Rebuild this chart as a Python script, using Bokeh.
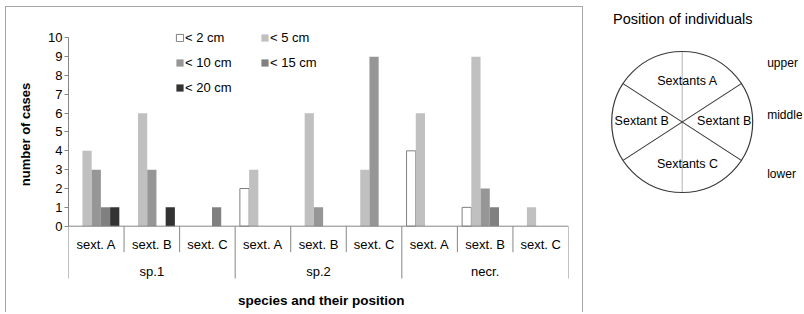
import math
from bokeh.plotting import figure
from bokeh.models import (FactorRange, Range1d, FixedTicker, Legend, LegendItem,
                          ColumnDataSource, Span)
from bokeh.transform import dodge
from bokeh.layouts import row
from bokeh.core.properties import value
from bokeh.embed import file_html
from bokeh.resources import INLINE

# ---------------- data ----------------
groups = ["sp.1", "sp.2", "necr."]
sextants = ["sext. A", "sext. B", "sext. C"]
size_classes = ["< 2 cm", "< 5 cm", "< 10 cm", "< 15 cm", "< 20 cm"]
# one value per (group, sextant): sp.1 A,B,C | sp.2 A,B,C | necr. A,B,C
cases_lt2 = [0, 0, 0, 2, 0, 0, 4, 1, 0]
cases_lt5 = [4, 6, 0, 3, 6, 3, 6, 9, 1]
cases_lt10 = [3, 3, 0, 0, 1, 9, 0, 2, 0]
cases_lt15 = [1, 0, 1, 0, 0, 0, 0, 1, 0]
cases_lt20 = [1, 1, 0, 0, 0, 0, 0, 0, 0]
y_ticks = list(range(0, 11))
x_title = "species and their position"
y_title = "number of cases"

diagram_title = "Position of individuals"
sector_labels = ["Sextants A", "Sextant B", "Sextant B", "Sextants C"]
level_labels = ["upper", "middle", "lower"]

# ---------------- styles ----------------
FONT = "Liberation Sans"
fills = ["#ffffff", "#c0c0c0", "#969696", "#808080", "#333333"]
edges = ["#7f7f7f", None, None, None, None]
AXIS = "#868686"
BORDER = "1px solid #a6a6a6"
H = 306

factors = [(g, s) for g in groups for s in sextants]
series = [cases_lt2, cases_lt5, cases_lt10, cases_lt15, cases_lt20]

# ---------------- y title strip ----------------
yl = figure(width=40, height=H, x_range=Range1d(0, 40), y_range=Range1d(0, H),
            x_axis_location=None, y_axis_location=None, output_backend="svg",
            toolbar_location=None, min_border=0)
yl.grid.visible = False
yl.outline_line_color = None
yl.text(x=[19], y=[179], text=[y_title], angle=math.pi / 2,
        text_align="center", text_baseline="middle", text_font=value(FONT),
        text_font_size="13px", text_font_style="bold", text_color="#000000")
yl.styles = {"border-top": BORDER, "border-left": BORDER}

# ---------------- bar chart ----------------
p = figure(width=538, height=H,
           x_range=FactorRange(factors=factors, factor_padding=0, group_padding=0,
                               subgroup_padding=0, range_padding=0),
           y_range=Range1d(-4.634, 11.608),
           x_axis_location=None, output_backend="svg", toolbar_location=None,
           min_border_left=23, min_border_right=15, min_border_top=0, min_border_bottom=0)
p.grid.visible = False
p.outline_line_color = None

bar_w = 0.166
renderers = {}
for k, (name, vals) in enumerate(zip(size_classes, series)):
    xs = [f for f, v in zip(factors, vals) if v > 0]
    tops = [v for v in vals if v > 0]
    src = ColumnDataSource(dict(x=xs, top=tops))
    renderers[name] = p.vbar(x=dodge("x", (k - 2) * bar_w, range=p.x_range), top="top",
                             bottom=0, width=bar_w, source=src, fill_color=fills[k],
                             line_color=edges[k], line_width=1)

# legend fills column by column: reorder so that it reads row by row
order = [0, 2, 4, 1, 3]
legend = Legend(items=[LegendItem(label=size_classes[i], renderers=[renderers[size_classes[i]]])
                       for i in order],
                ncols=2, location=(107, 218),
                glyph_width=9, glyph_height=9, label_height=9, label_width=65,
                label_standoff=1, spacing=10, padding=0, margin=0,
                border_line_color=None, background_fill_alpha=0,
                label_text_font=FONT, label_text_font_size="13px",
                label_text_color="#000000")
p.add_layout(legend)

ya = p.yaxis[0]
ya.ticker = FixedTicker(ticks=y_ticks)
ya.bounds = (0, 10)
ya.major_tick_in = 0
ya.major_tick_out = 4
ya.minor_tick_line_color = None
ya.axis_line_color = AXIS
ya.major_tick_line_color = AXIS
ya.major_label_text_font = FONT
ya.major_label_text_font_size = "13px"
ya.major_label_text_color = "#000000"
ya.major_label_standoff = 2

# category axis (two levels with separators)
p.add_layout(Span(location=0, dimension="width", line_color=AXIS, line_width=1))
long_len = -2.78
short_len = -1.38
starts = [f for f in factors if f[1] == sextants[0]]
inner = [f for f in factors if f[1] != sextants[0]]
p.segment(x0=dodge("x", -0.5, range=p.x_range), x1=dodge("x", -0.5, range=p.x_range),
          y0=0, y1=long_len, source=ColumnDataSource(dict(x=starts)),
          line_color=AXIS, line_width=1)
p.segment(x0=dodge("x", 0.5, range=p.x_range), x1=dodge("x", 0.5, range=p.x_range),
          y0=0, y1=long_len, source=ColumnDataSource(dict(x=[factors[-1]])),
          line_color=AXIS, line_width=1)
p.segment(x0=dodge("x", -0.5, range=p.x_range), x1=dodge("x", -0.5, range=p.x_range),
          y0=0, y1=short_len, source=ColumnDataSource(dict(x=inner)),
          line_color=AXIS, line_width=1)

p.text(x="x", y=-0.97, text="t",
       source=ColumnDataSource(dict(x=factors, t=[f[1] for f in factors])),
       text_align="center", text_baseline="middle", text_font=value(FONT),
       text_font_size="13px", text_color="#000000")
p.text(x="x", y=-2.38, text="t",
       source=ColumnDataSource(dict(x=groups, t=groups)),
       text_align="center", text_baseline="middle", text_font=value(FONT),
       text_font_size="13px", text_color="#000000")
p.text(x=dodge("x", 0.05, range=p.x_range), y=-3.94, text="t",
       source=ColumnDataSource(dict(x=[factors[4]], t=[x_title])),
       text_align="center", text_baseline="middle", text_font=value(FONT),
       text_font_size="13.5px", text_font_style="bold", text_color="#000000")

p.styles = {"border-top": BORDER, "border-right": BORDER}

# ---------------- diagram ----------------
d = figure(width=219, height=H, x_range=Range1d(0, 219), y_range=Range1d(H, 0),
           x_axis_location=None, y_axis_location=None, output_backend="svg",
           toolbar_location=None, min_border=0)
d.grid.visible = False
d.outline_line_color = None

cx, cy, R = 98.7, 115.5, 70.5
d.segment(x0=[cx], y0=[cy - R], x1=[cx], y1=[cy + R], line_color="#bfbfbf", line_width=1.2)
ang = math.radians(33)
dx, dy = R * math.cos(ang), R * math.sin(ang)
d.segment(x0=[cx - dx, cx - dx], y0=[cy - dy, cy + dy], x1=[cx + dx, cx + dx],
          y1=[cy + dy, cy - dy], line_color="#3a3a3a", line_width=1.1)
d.circle(x=[cx], y=[cy], radius=R, fill_color=None, line_color="#3a3a3a", line_width=1.2)

d.text(x=[99.3], y=[12], text=[diagram_title], text_align="center", text_baseline="middle",
       text_font=value(FONT), text_font_size="14.5px", text_color="#000000")
d.text(x=[104, 58.2, 140.7, 104], y=[74, 114, 114, 157.3], text=sector_labels,
       text_align="center", text_baseline="middle", text_font=value(FONT),
       text_font_size="12.5px", text_color="#000000")
d.text(x=[183.7] * 3, y=[56.7, 108, 167.3], text=level_labels,
       text_align="left", text_baseline="middle", text_font=value(FONT),
       text_font_size="12px", text_color="#000000")

layout = row(yl, p, d)
layout.margin = (6, 0, 0, 5)
open("out.html", "w").write(file_html(layout, INLINE))
